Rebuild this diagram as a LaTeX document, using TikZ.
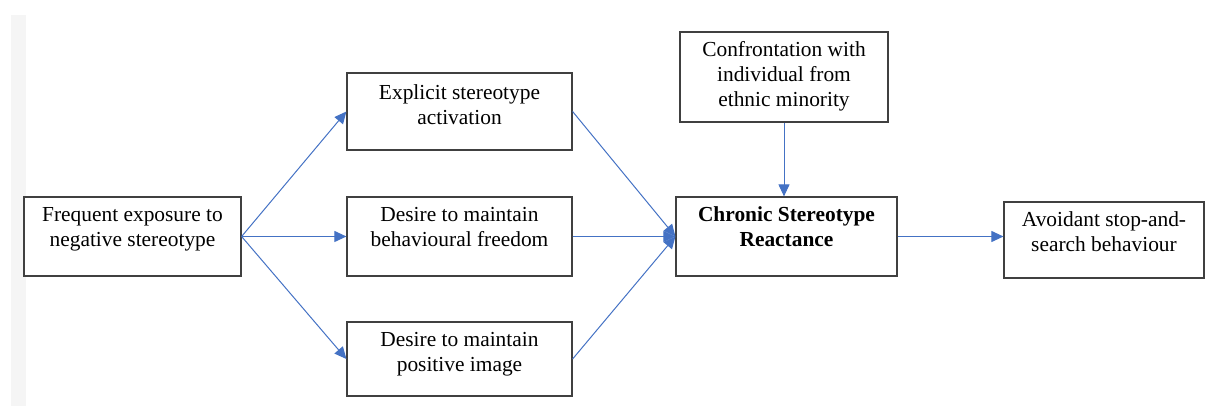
\documentclass[tikz,border=0pt]{standalone}
\usepackage{fontspec}
\setmainfont{Liberation Serif}
\usetikzlibrary{arrows.meta}

\definecolor{linkblue}{RGB}{68,114,196}
\definecolor{framegray}{RGB}{64,64,64}

\tikzset{
  box/.style={draw=framegray, line width=0.6pt, inner sep=0pt, fill=white},
  boxtext/.style={anchor=base, inner sep=0pt, text width=120pt, align=flush center,
    font=\fontsize{10.7}{12.5}\selectfont},
  link/.style={draw=linkblue, line width=0.5pt,
    -{Triangle[length=6pt,width=5.5pt]}},
}

\begin{document}
\begin{tikzpicture}[x=0.5pt, y=-0.5pt]
            \useasboundingbox (0,0) rectangle (1205,406);
            \fill[black!4] (11,15) rectangle (26,406);

            % columns
            \def\xf{132.5};
            \def\xm{459.5};
            \def\xc{786.5};
            \def\xk{784};
            \def\xv{1104};

            % rows
            \def\yt{77};
            \def\ya{111.5};
            \def\yb{236.5};
            \def\yc{359};
            \def\yv{240};

            \def\gap{12.5pt}

            \node[box, minimum width=108.5pt, minimum height=39.5pt] (freq) at (\xf, \yb) {};
            \node[box, minimum width=112.5pt, minimum height=38.5pt] (expl) at (\xm, \ya) {};
            \node[box, minimum width=112.5pt, minimum height=39.5pt] (free) at (\xm, \yb) {};
            \node[box, minimum width=112.5pt, minimum height=37pt] (image) at (\xm, \yc) {};
            \node[box, minimum width=110.5pt, minimum height=39.5pt] (react) at (\xc, \yb) {};
            \node[box, minimum width=104pt, minimum height=45pt] (conf) at (\xk, \yt) {};
            \node[box, minimum width=100pt, minimum height=38pt] (avoid) at (\xv, \yv) {};

            \node[boxtext] (freq-t) at ([yshift=-\gap]freq.north) {Frequent exposure to\\negative stereotype};
            \node[boxtext] (expl-t) at ([yshift=-13.5pt]expl.north) {Explicit stereotype\\activation};
            \node[boxtext] (free-t) at ([yshift=-\gap]free.north) {Desire to maintain\\behavioural freedom};
            \node[boxtext] (image-t) at ([yshift=-\gap]image.north) {Desire to maintain\\positive image};
            \node[boxtext, font=\fontsize{10.7}{12.5}\selectfont\bfseries] (react-t) at ([yshift=-\gap]react.north) {Chronic Stereotype\\Reactance};
            \node[boxtext] (conf-t) at ([yshift=-\gap]conf.north) {Confrontation with\\individual from\\ethnic minority};
            \node[boxtext] (avoid-t) at ([yshift=-\gap]avoid.north) {Avoidant stop-and-\\search behaviour};

            \draw[link] (freq.east) -- (expl.west);
            \draw[link] (freq.east) -- (free.west);
            \draw[link] (freq.east) -- (image.west);

            \draw[link] (expl.east) -- (react.west);
            \draw[link] (free.east) -- (react.west);
            \draw[link] (image.east) -- (react.west);

            \draw[link] (conf.south) -- (conf.south |- react.north);
            \draw[link] (react.east) -- (react.east -| avoid.west);

        \end{tikzpicture}
\end{document}
